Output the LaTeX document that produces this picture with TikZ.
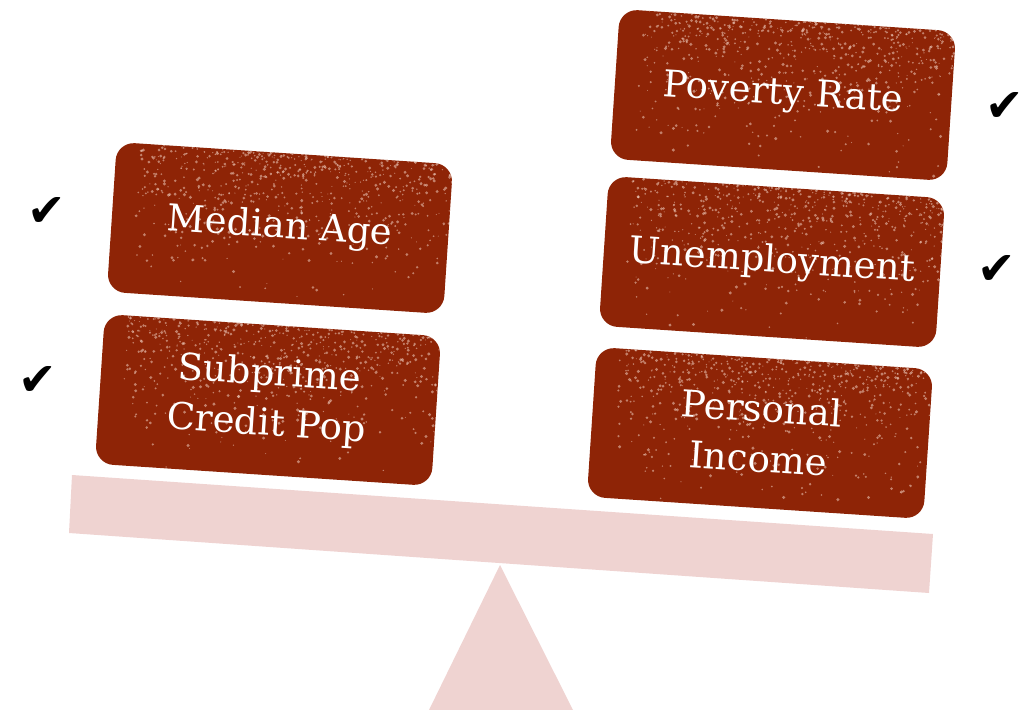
\documentclass[tikz,border=0pt]{standalone}
\usepackage{fontspec}
\setmainfont{DejaVu Serif}
\newfontfamily\checkfont{DejaVu Sans}
\usetikzlibrary{calc}
\definecolor{brick}{RGB}{142,36,6}
\definecolor{beamcol}{RGB}{239,211,209}
\definecolor{speck}{RGB}{240,205,190}
\tikzset{
  brickbox/.style={rounded corners=18pt, fill=brick, minimum width=337pt, minimum height=150pt,
    rotate=-3.8, text=white, font=\fontsize{37}{50}\selectfont, align=center, inner sep=0pt,
    path picture={
      \foreach \i in {1,...,700} {
        \pgfmathsetmacro\rx{-145+315*rnd}
        \pgfmathsetmacro\ry{-78+156*rnd*rnd}
        \pgfmathsetmacro\rr{0.5+1.2*rnd}
        \fill[speck,opacity=0.55] ($(path picture bounding box.center)+(\rx,\ry)$) circle (\rr pt);
      }
    }},
  checkmark/.style={font=\checkfont\fontsize{46}{46}\selectfont, text=black, inner sep=0pt}
}
\begin{document}
\begin{tikzpicture}[x=1pt,y=-1pt]
\pgfmathsetseed{7}
\useasboundingbox (0,0) rectangle (1029,710);
% beam and fulcrum
\fill[beamcol] (72,475) -- (933,534) -- (929,593) -- (69,533) -- cycle;
\fill[beamcol] (500,565) -- (573,710) -- (429,710) -- cycle;
% boxes
\node[brickbox] (median) at (280,228) {Median Age};
\node[brickbox] (subprime) at (268,400) {Subprime\\Credit Pop};
\node[brickbox] (poverty) at (783,95) {Poverty Rate};
\node[brickbox] (unemp) at (772,262) {Unemployment};
\node[brickbox] (income) at (760,433) {Personal\\Income};
% check marks
\node[checkmark] (c1) at (47,212) {✔};
\node[checkmark] (c2) at (38,381) {✔};
\node[checkmark] (c3) at (1005,107) {✔};
\node[checkmark] (c4) at (997,270) {✔};
\end{tikzpicture}
\end{document}
